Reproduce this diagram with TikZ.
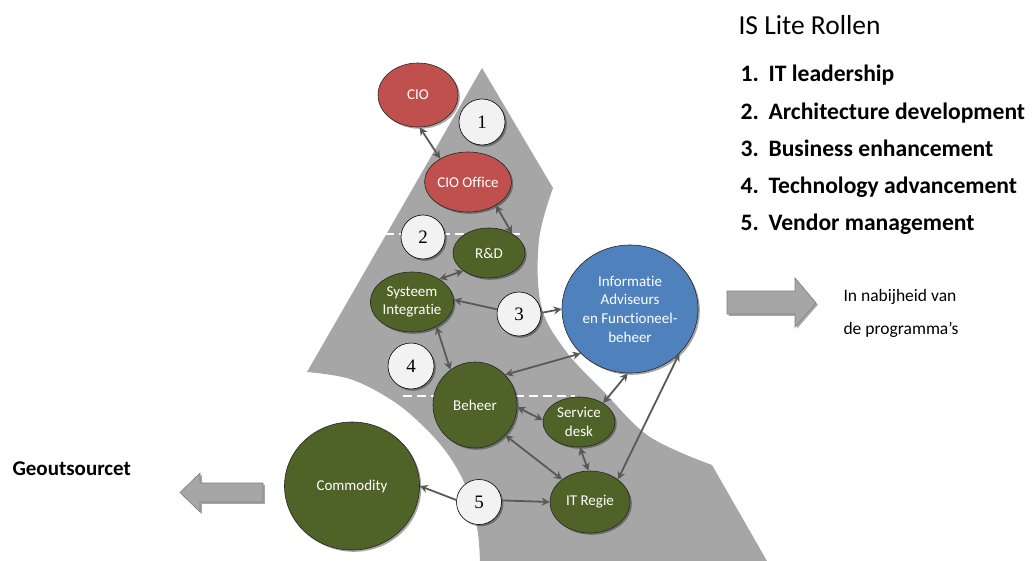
\documentclass[tikz,border=0pt]{standalone}
\usepackage{fontspec}
\setmainfont{Carlito}[Ligatures=NoCommon]
\newfontfamily\numfont{Liberation Serif}
\usetikzlibrary{arrows.meta,shadows,shapes.geometric}
\definecolor{redn}{HTML}{C0504D}
\definecolor{greenn}{HTML}{4F6228}
\definecolor{bluen}{HTML}{4F81BD}
\definecolor{band}{HTML}{A6A6A6}
\definecolor{conn}{HTML}{595959}
\definecolor{numfill}{HTML}{F2F2F2}
\definecolor{arrowfill}{HTML}{A6A6A6}
\begin{document}
\begin{tikzpicture}[x=1pt,y=-1pt,
  shad/.style={drop shadow={shadow xshift=1.8pt,shadow yshift=-1.8pt,opacity=0.35,fill=black}},
  role/.style={ellipse,draw=black!85,line width=0.6pt,text=white,align=center,inner sep=0pt,
    font=\fontsize{15}{18.7}\selectfont,shad},
  redrole/.style={role,fill=redn},
  greenrole/.style={role,fill=greenn},
  bluerole/.style={role,fill=bluen},
  numc/.style={circle,draw=black,line width=0.6pt,fill=numfill,inner sep=0pt,
    font=\numfont\fontsize{19}{19}\selectfont,shad},
  link/.style={draw=conn,line width=1.8pt,{Stealth[length=8pt,width=8pt]}-{Stealth[length=8pt,width=8pt]}},
  oneway/.style={draw=conn,line width=1.8pt,-{Stealth[length=8pt,width=8pt]}},
  divider/.style={draw=white,line width=2pt,dash pattern=on 9pt off 5pt},
  blockarrow/.style={fill=arrowfill,draw=black!50,line width=0.6pt,shad},
  listtext/.style={anchor=base west,font=\bfseries\fontsize{23.6}{23.6}\selectfont},
  sidetext/.style={anchor=base west,font=\fontsize{17.5}{17.5}\selectfont}
]
\useasboundingbox (0,0) rectangle (1035,561);

% grey band
\fill[band] (482,68) -- (553,188)
  -- plot[smooth,tension=0.6] coordinates {(553,188) (539,240) (541,305) (565,350) (605,393) (650,437) (712,465)}
  -- (767,561) -- (480,561)
  -- plot[smooth,tension=0.6] coordinates {(480,561) (477,527) (466,487) (447,453) (420,423) (390,399) (350,379) (307,372)}
  -- cycle;

% dividers
\draw[divider] (385,234) -- (525,234);
\draw[divider] (403,396) -- (575,396);

% nodes
\node[redrole,minimum width=80pt,minimum height=64pt] (cio) at (418,95) {CIO};
\node[numc,minimum size=46pt] (one) at (482,122) {1};
\node[redrole,minimum width=80pt,minimum height=60pt] (ciooff) at (468,182) {CIO Office};
\node[numc,minimum size=44pt] (two) at (423,237) {2};
\node[greenrole,minimum width=72pt,minimum height=50pt] (rd) at (489,253) {R\&D};
\node[greenrole,minimum width=82pt,minimum height=60pt] (sys) at (412,302) {Systeem\\Integratie};
\node[numc,minimum size=44pt] (three) at (519,314) {3};
\node[bluerole,minimum width=136pt,minimum height=128pt] (blue) at (630,309) {Informatie\\Adviseurs\\en Functioneel-\\beheer};
\node[numc,minimum size=46pt] (four) at (411,366) {4};
\node[greenrole,minimum width=84pt,minimum height=86pt] (beheer) at (475,405) {Beheer};
\node[greenrole,minimum width=72pt,minimum height=50pt] (sd) at (579,422) {Service\\desk};
\node[greenrole,minimum width=135pt,minimum height=128pt] (comm) at (352,486) {Commodity};
\node[numc,minimum size=45pt] (five) at (479,502) {5};
\node[greenrole,minimum width=80pt,minimum height=62pt] (itr) at (590,502) {IT Regie};

% connectors
\draw[link] (cio.-87) -- (ciooff.140);
\draw[link] (ciooff.-40) -- (rd.40);
\draw[link] (rd.-145) -- (sys.40);
\draw[oneway] (three.168) -- (sys.3);
\draw[oneway] (three.3) -- (blue.180);
\draw[link] (sys.-45) -- (beheer.125);
\draw[link] (beheer.45) -- (blue.-138);
\draw[link] (beheer.-3) -- (sd.177);
\draw[link] (beheer.-45) -- (itr.141);
\draw[link] (sd.38) -- (blue.-92);
\draw[link] (sd.-88) -- (itr.93);
\draw[link] (itr.39) -- (blue.-42);
\draw[oneway] (five.175) -- (comm.0);
\draw[oneway] (five.4) -- (itr.180);

% block arrows
\draw[blockarrow] (727,291) -- (795,291) -- (795,278) -- (816,303) -- (795,327) -- (795,314) -- (727,314) -- cycle;
\draw[blockarrow] (263,483) -- (200,483) -- (200,473) -- (180,492.5) -- (200,512) -- (200,502) -- (263,502) -- cycle;

% texts
\node[anchor=base west,font=\fontsize{27.5}{27.5}\selectfont] (title) at (735,35) {IS Lite Rollen};
\node[listtext] (l1) at (737,82) {\makebox[28pt][l]{1.}IT leadership};
\node[listtext] (l2) at (737,120) {\makebox[28pt][l]{2.}Architecture development};
\node[listtext] (l3) at (737,157) {\makebox[28pt][l]{3.}Business enhancement};
\node[listtext] (l4) at (737,194) {\makebox[28pt][l]{4.}Technology advancement};
\node[listtext] (l5) at (737,231) {\makebox[28pt][l]{5.}Vendor management};
\node[sidetext] (near1) at (840,301) {In nabijheid van};
\node[sidetext] (near2) at (840,334) {de programma’s};
\node[anchor=base west,font=\bfseries\fontsize{21}{21}\selectfont] (outs) at (9,475) {Geoutsourcet};
\end{tikzpicture}
\end{document}
